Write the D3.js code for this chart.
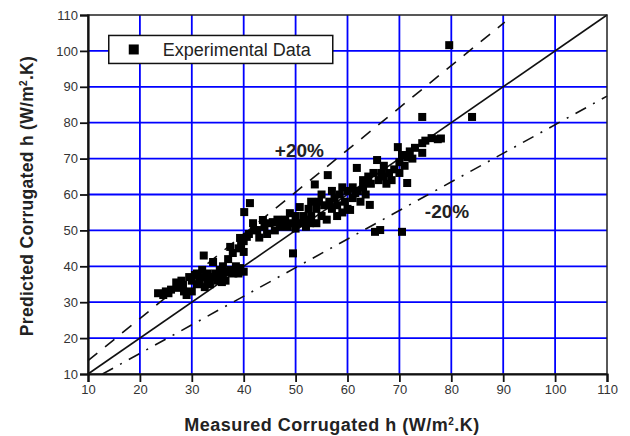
<!DOCTYPE html>
<html>
<head>
<meta charset="utf-8">
<script src="https://cdn.jsdelivr.net/npm/d3@7"></script>
<style>
  body { margin: 0; background: #fff; }
  text { font-family: "Liberation Sans", Arial, sans-serif; }
</style>
</head>
<body>
<div class="chart"></div>
<script>
// Axis ticks
var xTicks = [10, 20, 30, 40, 50, 60, 70, 80, 90, 100, 110];
var yTicks = [10, 20, 30, 40, 50, 60, 70, 80, 90, 100, 110];

// Experimental data: [measured, predicted]
var expData = [
  [23.5, 32.5], [24.5, 32], [25, 33], [25.5, 32.5], [26, 33.5], [27, 35.5], [27.5, 34], [28, 36],
  [28.3, 34.8], [28.5, 33], [29, 32], [29.5, 37], [30, 36], [30, 33], [30.6, 37.6], [31, 35],
  [31, 38], [31.5, 36], [32, 37], [32, 39], [32.3, 43], [32.5, 34.2], [33, 36], [33, 38],
  [33.5, 35], [34, 37], [34.1, 41.2], [34.5, 38], [35, 36], [35.4, 39], [35.5, 37], [35.8, 35.6],
  [36, 38], [36, 40], [36.5, 36], [37, 38.4], [37, 42], [37.4, 45.4], [37.5, 39], [37.9, 43.7],
  [38, 38], [38.5, 40], [39, 38], [39.3, 39.5], [39, 45], [39.3, 47.9], [39.5, 46], [40, 38.5],
  [40, 44], [40, 47], [40.1, 55.1], [41.2, 57.6],
  [40.6, 48.2], [41, 49], [41.8, 52], [42, 50], [42.6, 50.1], [43, 48], [43.7, 52.9], [44, 51],
  [44.5, 49], [45, 52], [45.6, 52.3], [46, 50], [46.5, 53], [47, 51], [47.6, 52.9], [48, 53],
  [48.5, 51], [48.9, 54.8], [49.5, 43.6], [49.5, 52], [50, 54], [50, 50.5],
  [50.8, 56.5], [51, 52], [51.5, 54], [52, 53], [52, 51], [52.5, 56], [52.8, 52], [53, 54],
  [53, 58], [53.7, 62.8], [54, 52], [54, 56], [54.5, 58], [55, 54], [55, 60], [55.5, 57],
  [56, 53], [56.2, 65.4], [56.5, 58], [57, 56], [57, 61], [57.5, 59], [58, 54], [58, 57],
  [58.5, 60], [59, 55], [59, 62], [59.5, 58], [60, 61], [60, 56],
  [60.5, 55.7], [61, 59], [61, 62], [61.5, 60.4], [61.8, 67.4], [62, 61], [62.5, 58], [63, 62],
  [63, 64], [63.5, 60], [64.3, 57.1], [64, 65], [64.5, 63], [65, 66], [65.7, 69.6], [65.3, 49.6],
  [66.3, 50.1], [66, 64], [66.5, 66], [67, 68], [67, 65], [67.5, 63], [68, 66], [68.5, 64],
  [69, 67], [69.7, 73.2], [70, 69], [70, 66], [70.5, 49.6], [70.5, 71], [71, 68],
  [71.5, 63.2], [71.5, 70.4], [72, 72], [72.5, 70], [73, 73], [74.4, 74.3], [74.4, 71.6],
  [74.4, 81.6], [75, 75], [76.2, 75.7], [77.4, 75.4], [78, 75.6], [79.6, 101.6], [84, 81.6]
];

// Reference lines (end points)
var perfectLine = [[10, 10], [110, 110]];
var plusLine = [[10, 13.7], [90.3, 108]];
var minusLine = [[12.8, 10], [110, 87.4]];

// SVG area
var svgWidth = 630;
var svgHeight = 436;

var margin = { top: 15, right: 23, bottom: 62, left: 88 };
var width = svgWidth - margin.left - margin.right;
var height = svgHeight - margin.top - margin.bottom;

var svg = d3.select(".chart")
  .append("svg")
  .attr("width", svgWidth)
  .attr("height", svgHeight);

var chart = svg.append("g")
  .attr("transform", "translate(" + margin.left + "," + margin.top + ")");

var xScale = d3.scaleLinear().domain([10, 110]).range([0, width]);
var yScale = d3.scaleLinear().domain([10, 110]).range([height, 0]);

// Blue grid
chart.append("g")
  .selectAll("line")
  .data(xTicks.slice(1, -1))
  .enter().append("line")
  .attr("x1", function(d) { return xScale(d); })
  .attr("x2", function(d) { return xScale(d); })
  .attr("y1", 0)
  .attr("y2", height)
  .attr("stroke", "#0000ff")
  .attr("stroke-width", 1.8);

chart.append("g")
  .selectAll("line")
  .data(yTicks.slice(1, -1))
  .enter().append("line")
  .attr("x1", 0)
  .attr("x2", width)
  .attr("y1", function(d) { return yScale(d); })
  .attr("y2", function(d) { return yScale(d); })
  .attr("stroke", "#0000ff")
  .attr("stroke-width", 1.8);

// Reference lines
var line = d3.line()
  .x(function(d) { return xScale(d[0]); })
  .y(function(d) { return yScale(d[1]); });

chart.append("path")
  .attr("d", line(perfectLine))
  .attr("fill", "none")
  .attr("stroke", "#111")
  .attr("stroke-width", 1.6);

chart.append("path")
  .attr("d", line(plusLine))
  .attr("fill", "none")
  .attr("stroke", "#111")
  .attr("stroke-width", 1.6)
  .attr("stroke-dasharray", "12,10");

chart.append("path")
  .attr("d", line(minusLine))
  .attr("fill", "none")
  .attr("stroke", "#111")
  .attr("stroke-width", 1.6)
  .attr("stroke-dasharray", "12,8,2,8");

// Data markers
var markerSize = 8;
chart.append("g")
  .selectAll("rect")
  .data(expData)
  .enter().append("rect")
  .attr("x", function(d) { return xScale(d[0]) - markerSize / 2; })
  .attr("y", function(d) { return yScale(d[1]) - markerSize / 2; })
  .attr("width", markerSize)
  .attr("height", markerSize)
  .attr("fill", "#000");

// Frame
chart.append("rect")
  .attr("width", width)
  .attr("height", height)
  .attr("fill", "none")
  .attr("stroke", "#222")
  .attr("stroke-width", 1.5);

// Axes
var bottomAxis = d3.axisBottom(xScale).tickValues(xTicks).tickSize(8).tickPadding(3);
var leftAxis = d3.axisLeft(yScale).tickValues(yTicks).tickSize(8).tickPadding(2);

var xAxisG = chart.append("g")
  .attr("transform", "translate(0," + height + ")")
  .call(bottomAxis);

var yAxisG = chart.append("g")
  .call(leftAxis);

[xAxisG, yAxisG].forEach(function(g) {
  g.select(".domain").attr("stroke", "#111").attr("stroke-width", 2.2);
  g.selectAll(".tick line").attr("stroke", "#111").attr("stroke-width", 1.8);
  g.selectAll(".tick text")
    .attr("fill", "#333")
    .style("font-size", "13px")
    .style("font-family", "'Liberation Sans', Arial, sans-serif");
});

// Legend
var legend = chart.append("g")
  .attr("transform", "translate(" + (xScale(14)) + "," + (yScale(104.3)) + ")");

legend.append("rect")
  .attr("width", 224)
  .attr("height", 28)
  .attr("fill", "#fff")
  .attr("stroke", "#111")
  .attr("stroke-width", 1.5);

legend.append("rect")
  .attr("x", 20)
  .attr("y", 9)
  .attr("width", 10)
  .attr("height", 10)
  .attr("fill", "#000");

legend.append("text")
  .attr("x", 54)
  .attr("y", 20.5)
  .attr("fill", "#222")
  .style("font-size", "18px")
  .text("Experimental Data");

// Band labels
chart.append("text")
  .attr("x", xScale(46))
  .attr("y", yScale(70.4))
  .attr("fill", "#222")
  .style("font-size", "19px")
  .style("font-weight", "bold")
  .text("+20%");

chart.append("text")
  .attr("x", xScale(74.9))
  .attr("y", yScale(53.5))
  .attr("fill", "#222")
  .style("font-size", "19px")
  .style("font-weight", "bold")
  .text("-20%");

// Axis titles
var yTitle = svg.append("text")
  .attr("transform", "translate(33,196) rotate(-90)")
  .attr("text-anchor", "middle")
  .attr("fill", "#222")
  .style("font-size", "17.5px")
  .style("letter-spacing", "0.3px")
  .style("font-weight", "bold");
yTitle.append("tspan").text("Predicted Corrugated h (W/m");
yTitle.append("tspan").attr("dy", -6).style("font-size", "10px").text("2");
yTitle.append("tspan").attr("dy", 6).text(".K)");

var xTitle = svg.append("text")
  .attr("x", 332)
  .attr("y", 431)
  .attr("text-anchor", "middle")
  .attr("fill", "#222")
  .style("font-size", "18px")
  .style("letter-spacing", "0.5px")
  .style("font-weight", "bold");
xTitle.append("tspan").text("Measured Corrugated h (W/m");
xTitle.append("tspan").attr("dy", -6).style("font-size", "10px").text("2");
xTitle.append("tspan").attr("dy", 6).text(".K)");
</script>
</body>
</html>
